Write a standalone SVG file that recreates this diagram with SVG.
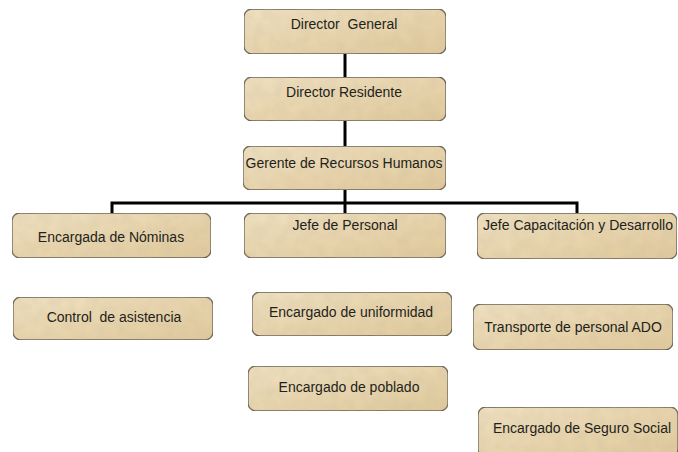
<svg xmlns="http://www.w3.org/2000/svg" width="678" height="452" viewBox="0 0 678 452">
<defs>
<linearGradient id="parch" x1="0" y1="0" x2="1" y2="1">
<stop offset="0" stop-color="#F2E4C4"/>
<stop offset="0.5" stop-color="#EBD8B0"/>
<stop offset="1" stop-color="#E2CB9D"/>
</linearGradient>
<filter id="tex" x="0" y="0" width="100%" height="100%">
<feTurbulence type="fractalNoise" baseFrequency="0.08" numOctaves="3" seed="4" result="n"/>
<feColorMatrix in="n" type="matrix" values="0 0 0 0 0.55  0 0 0 0 0.45  0 0 0 0 0.3  0 0 0 0.35 0" result="c"/>
<feComposite in="c" in2="SourceGraphic" operator="in" result="t"/>
<feMerge><feMergeNode in="SourceGraphic"/><feMergeNode in="t"/></feMerge>
</filter>
</defs>
<style>
.box{fill:url(#parch);stroke:#555049;stroke-width:1.3;filter:url(#tex)}
.lbl{font-family:"Liberation Sans",Arial,sans-serif;font-size:14px;fill:#231f1a;text-anchor:middle;white-space:pre}
.con{stroke:#000;stroke-width:3;fill:none}
</style>
<rect width="678" height="452" fill="#fff"/>
<g id="connectors">
<line class="con" x1="345" y1="54" x2="345" y2="77"/>
<line class="con" x1="345" y1="121" x2="345" y2="146"/>
<line class="con" x1="345" y1="190" x2="345" y2="214"/>
<polyline class="con" points="112,214 112,203 577,203 577,214"/>
</g>
<g id="director-general"><rect class="box" x="244" y="9" width="202" height="45" rx="8"/><text class="lbl" x="344" y="29">Director  General</text></g>
<g id="director-residente"><rect class="box" x="244" y="77" width="202" height="44" rx="8"/><text class="lbl" x="344" y="97">Director Residente</text></g>
<g id="gerente-rh"><rect class="box" x="243" y="146" width="203" height="44" rx="8"/><text class="lbl" x="344" y="168">Gerente de Recursos Humanos</text></g>
<g id="encargada-nominas"><rect class="box" x="12" y="213" width="199" height="45" rx="8"/><text class="lbl" x="111" y="242">Encargada de Nóminas</text></g>
<g id="jefe-personal"><rect class="box" x="244" y="213" width="202" height="45" rx="8"/><text class="lbl" x="345" y="230">Jefe de Personal</text></g>
<g id="jefe-capacitacion"><rect class="box" x="477" y="213" width="200" height="46" rx="8"/><text class="lbl" x="578" y="230">Jefe Capacitación y Desarrollo</text></g>
<g id="control-asistencia"><rect class="box" x="13" y="297" width="200" height="43" rx="8"/><text class="lbl" x="114" y="322">Control  de asistencia</text></g>
<g id="encargado-uniformidad"><rect class="box" x="252" y="292" width="200" height="44" rx="8"/><text class="lbl" x="351" y="317">Encargado de uniformidad</text></g>
<g id="transporte-ado"><rect class="box" x="473" y="304" width="200" height="46" rx="8"/><text class="lbl" x="573" y="332">Transporte de personal ADO</text></g>
<g id="encargado-poblado"><rect class="box" x="248" y="366" width="200" height="45" rx="8"/><text class="lbl" x="349" y="392">Encargado de poblado</text></g>
<g id="encargado-seguro"><rect class="box" x="478" y="407" width="200" height="50" rx="8"/><text class="lbl" x="582" y="433">Encargado de Seguro Social</text></g>
</svg>
